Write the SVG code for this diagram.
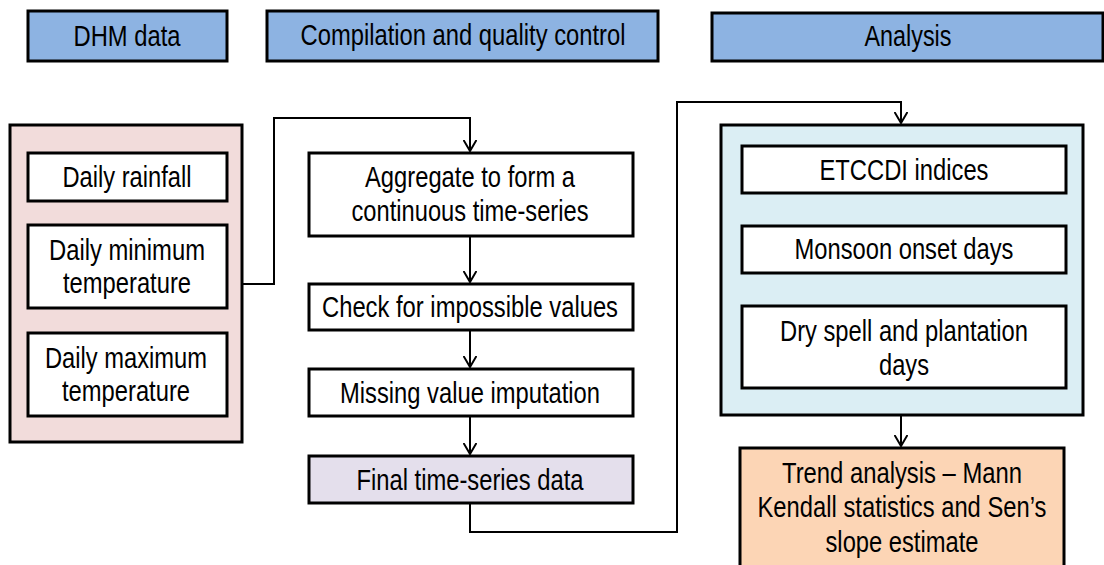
<svg xmlns="http://www.w3.org/2000/svg" width="1104" height="565" viewBox="0 0 1104 565">
<style>
.b{stroke:#000;stroke-width:3}
.hdr{fill:#8db3e2}
.w{fill:#fff}
.t{font-family:"Liberation Sans",Arial,sans-serif;font-size:29px;fill:#000;text-anchor:middle}
.c{fill:none;stroke:#000;stroke-width:2}
</style>
<defs>
<marker id="arr" markerWidth="14" markerHeight="14" refX="11" refY="7" orient="auto" markerUnits="userSpaceOnUse" viewBox="0 0 14 14">
<path d="M0,0.5 L11,7 L0,13.5" fill="none" stroke="#000" stroke-width="2"/>
</marker>
</defs>
<rect width="1104" height="565" fill="#fff"/>
<g id="hdr-dhm"><rect class="b hdr" x="28" y="11" width="199" height="50"/><text class="t" x="127" y="46" textLength="107" lengthAdjust="spacingAndGlyphs">DHM data</text></g>
<g id="hdr-comp"><rect class="b hdr" x="267" y="11" width="391" height="50"/><text class="t" x="463" y="45" textLength="325" lengthAdjust="spacingAndGlyphs">Compilation and quality control</text></g>
<g id="hdr-analysis"><rect class="b hdr" x="712" y="13" width="391" height="48"/><text class="t" x="908" y="46" textLength="87" lengthAdjust="spacingAndGlyphs">Analysis</text></g>
<g id="dhm-group"><rect class="b" fill="#f2dcdb" x="10" y="125" width="232" height="317"/></g>
<g id="rainfall"><rect class="b w" x="28" y="153" width="199" height="48"/><text class="t" x="127" y="187" textLength="129" lengthAdjust="spacingAndGlyphs">Daily rainfall</text></g>
<g id="tmin"><rect class="b w" x="28" y="225" width="199" height="83"/><text class="t" x="127" y="260" textLength="156" lengthAdjust="spacingAndGlyphs">Daily minimum</text><text class="t" x="127" y="293" textLength="128" lengthAdjust="spacingAndGlyphs">temperature</text></g>
<g id="tmax"><rect class="b w" x="28" y="333" width="199" height="83"/><text class="t" x="126" y="368" textLength="162" lengthAdjust="spacingAndGlyphs">Daily maximum</text><text class="t" x="126" y="401" textLength="128" lengthAdjust="spacingAndGlyphs">temperature</text></g>
<g id="aggregate"><rect class="b w" x="309" y="153" width="324" height="83"/><text class="t" x="470" y="187" textLength="210" lengthAdjust="spacingAndGlyphs">Aggregate to form a</text><text class="t" x="470" y="221" textLength="237" lengthAdjust="spacingAndGlyphs">continuous time-series</text></g>
<g id="check"><rect class="b w" x="309" y="284" width="324" height="46"/><text class="t" x="470" y="317" textLength="296" lengthAdjust="spacingAndGlyphs">Check for impossible values</text></g>
<g id="missing"><rect class="b w" x="309" y="369" width="324" height="47"/><text class="t" x="470" y="403" textLength="260" lengthAdjust="spacingAndGlyphs">Missing value imputation</text></g>
<g id="final"><rect class="b" fill="#e4dfec" x="309" y="456" width="324" height="47"/><text class="t" x="470" y="490" textLength="227" lengthAdjust="spacingAndGlyphs">Final time-series data</text></g>
<g id="analysis-group"><rect class="b" fill="#dbeef4" x="721" y="125" width="362" height="290"/></g>
<g id="etccdi"><rect class="b w" x="742" y="146" width="324" height="47"/><text class="t" x="904" y="180" textLength="169" lengthAdjust="spacingAndGlyphs">ETCCDI indices</text></g>
<g id="monsoon"><rect class="b w" x="742" y="226" width="324" height="47"/><text class="t" x="904" y="259" textLength="219" lengthAdjust="spacingAndGlyphs">Monsoon onset days</text></g>
<g id="dryspell"><rect class="b w" x="742" y="306" width="324" height="82"/><text class="t" x="904" y="341" textLength="248" lengthAdjust="spacingAndGlyphs">Dry spell and plantation</text><text class="t" x="904" y="375" textLength="50" lengthAdjust="spacingAndGlyphs">days</text></g>
<g id="trend"><rect class="b" fill="#fcd5b5" x="740" y="448" width="324" height="120"/><text class="t" x="902" y="483" textLength="240" lengthAdjust="spacingAndGlyphs">Trend analysis – Mann</text><text class="t" x="902" y="517" textLength="289" lengthAdjust="spacingAndGlyphs">Kendall statistics and Sen’s</text><text class="t" x="902" y="552" textLength="153" lengthAdjust="spacingAndGlyphs">slope estimate</text></g>
<g id="connectors">
<path class="c" d="M242,284 H274 V118 H470 V151" marker-end="url(#arr)"/>
<path class="c" d="M470,236 V282" marker-end="url(#arr)"/>
<path class="c" d="M470,330 V367" marker-end="url(#arr)"/>
<path class="c" d="M470,416 V454" marker-end="url(#arr)"/>
<path class="c" d="M470,503 V532 H677 V102 H901 V123" marker-end="url(#arr)"/>
<path class="c" d="M901,415 V446" marker-end="url(#arr)"/>
</g>
</svg>
